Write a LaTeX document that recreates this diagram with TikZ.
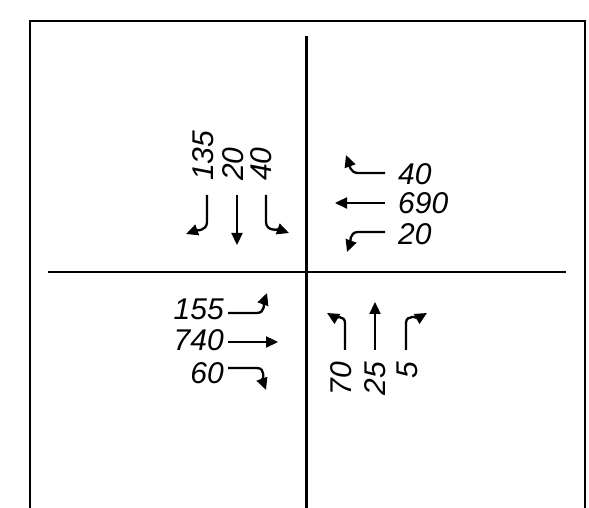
\documentclass[tikz,border=0pt]{standalone}
\usepackage{fontspec}
\setmainfont{Liberation Sans}
\usepackage{tikz}
\usetikzlibrary{arrows.meta,positioning}

\begin{document}
\begin{tikzpicture}[x=1pt, y=1pt,
  frame/.style={line width=2.8pt},
  road/.style={line width=2.2pt},
  mv/.style={-{Triangle[length=12pt,width=11pt]}, line width=2.3pt},
  vol/.style={font=\fontsize{30}{30}\selectfont\itshape, inner sep=0pt}]
  \useasboundingbox (0,0) rectangle (589,508);
  % frame and centre lines
  \draw[frame] (30,0) -- (30,487) -- (585,487) -- (585,0);
  \draw[road] (306.5,472) -- (306.5,0);
  \draw[road] (48,236) -- (566,236);
  % north approach
  \draw[mv] (207,313) -- (207,286) to[out=-90,in=20] (186,274);
  \draw[mv] (237,313) -- (237,263);
  \draw[mv] (266,313) -- (266,286) to[out=-90,in=160] (289,275);
  \node[vol, rotate=90, anchor=west] (nl) at (203,327) {135};
  \node[vol, rotate=90, anchor=west] (nt) at (233,327) {20};
  \node[vol, rotate=90, anchor=west] (nr) at (261,327) {40};
  % east approach
  \draw[mv] (385,335) -- (358,335) to[out=180,in=-70] (346,353);
  \draw[mv] (385,305) -- (335,305);
  \draw[mv] (385,276) -- (358,276) to[out=180,in=70] (347,256);
  \node[vol, anchor=west] (er) at (398,334) {40};
  \node[vol, anchor=west] (et) at (398,305) {690};
  \node[vol, anchor=west] (el) at (398,274) {20};
  % west approach
  \draw[mv] (228,195) -- (257,195) to[out=0,in=-110] (267,215);
  \draw[mv] (228,166) -- (278,166);
  \draw[mv] (228,140) -- (257,140) to[out=0,in=110] (266,118);
  \node[vol, anchor=east] (wl) at (224,199) {155};
  \node[vol, anchor=east] (wt) at (224,168) {740};
  \node[vol, anchor=east] (wr) at (224,135) {60};
  % south approach
  \draw[mv] (345,158) -- (345,185) to[out=90,in=-30] (327,195);
  \draw[mv] (375,158) -- (375,206);
  \draw[mv] (406,158) -- (406,185) to[out=90,in=-150] (427,195);
  \node[vol, rotate=90, anchor=east] (sl) at (341,146) {70};
  \node[vol, rotate=90, anchor=east] (st) at (375,146) {25};
  \node[vol, rotate=90, anchor=east] (sr) at (407,146) {5};
\end{tikzpicture}
\end{document}
